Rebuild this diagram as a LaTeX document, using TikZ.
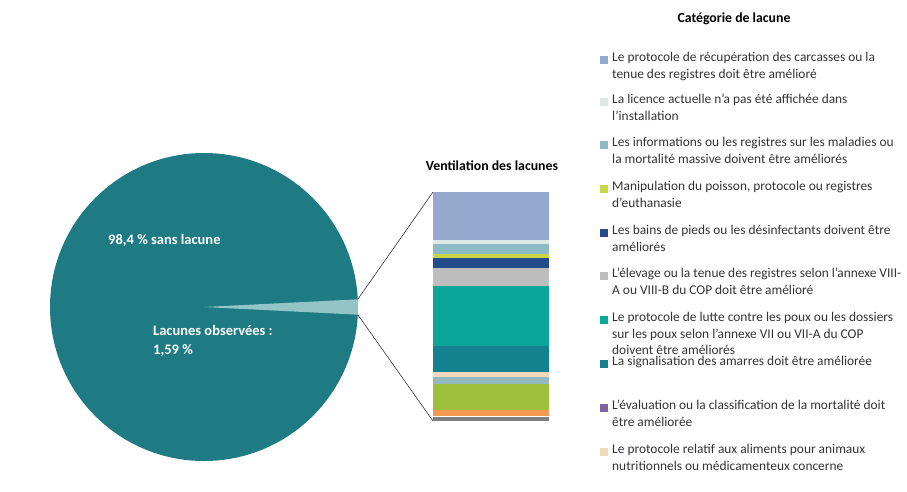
\documentclass[tikz,border=0pt]{standalone}
\usepackage{fontspec}
\setmainfont{Carlito}
\begin{document}
\begin{tikzpicture}[x=1pt,y=-1pt,
  lg/.style={anchor=north west,align=left,font=\fontsize{13.4}{16.5}\selectfont,text=black!80,inner sep=0pt},
  sq/.style={minimum size=7.5pt,inner sep=0pt},
  pt/.style={font=\bfseries\fontsize{14.5}{19}\selectfont,text=white,anchor=west,align=left,inner sep=0pt}]
\useasboundingbox (0,0) rectangle (907,491);
\definecolor{pie}{HTML}{1E7B84}\definecolor{sl}{HTML}{93C5C8}
\fill[pie] (204,307) circle (154);
\fill[sl,shift={(204,307)}] (0,0) -- (-2.86:154) arc[start angle=-2.86,end angle=2.86,radius=154] -- cycle;
\coordinate (s1) at (357.8,299.3); \coordinate (s2) at (357.8,314.7);
\node[pt] (p1) at (108,240) {98,4 \% sans lacune};
\node[pt] (p2) at (153,341) {Lacunes observées :\\1,59 \%};
\def\sg#1#2#3{\fill[fill=#3] (433,#1) rectangle (549,#2);}
\definecolor{c1}{HTML}{95A9CE}\definecolor{c2}{HTML}{DDE9E6}\definecolor{c3}{HTML}{8DBBC4}
\definecolor{c4}{HTML}{C8D645}\definecolor{c5}{HTML}{254C8A}\definecolor{c6}{HTML}{BDBDBD}
\definecolor{c7}{HTML}{0BA59A}\definecolor{c8}{HTML}{15838F}\definecolor{c9}{HTML}{F2D9BE}
\definecolor{c10}{HTML}{94B8BE}\definecolor{c11}{HTML}{9DBF3C}\definecolor{c12}{HTML}{F39A4E}
\definecolor{c13}{HTML}{7F7F7F}\definecolor{c14}{HTML}{7E65A0}
\sg{192}{240}{c1}\sg{240}{244}{c2}\sg{244}{254}{c3}\sg{254}{258}{c4}\sg{258}{268}{c5}
\sg{268}{286}{c6}\sg{286}{346}{c7}\sg{346}{372}{c8}\sg{372}{377}{c9}\sg{377}{384}{c10}
\sg{384}{410}{c11}\sg{410}{416}{c12}\sg{417}{421}{c13}
\coordinate (b1) at (433,192); \coordinate (b2) at (433,421);
\draw[black!80,line width=0.6pt] (s1) -- (b1) (s2) -- (b2);
\node[font=\bfseries\fontsize{13.8}{15}\selectfont] (t2) at (492,166) {Ventilation des lacunes};
\node[font=\bfseries\fontsize{13.8}{15}\selectfont] (t1) at (734,19) {Catégorie de lacune};
\foreach \y/\c/\t in {
 52/c1/{Le protocole de récupération des carcasses ou la\\tenue des registres doit être amélioré},
 94/c2/{La licence actuelle n'a pas été affichée dans\\l'installation},
 137/c3/{Les informations ou les registres sur les maladies ou\\la mortalité massive doivent être améliorés},
 181/c4/{Manipulation du poisson, protocole ou registres\\d'euthanasie},
 225/c5/{Les bains de pieds ou les désinfectants doivent être\\améliorés},
 268/c6/{L'élevage ou la tenue des registres selon l'annexe VIII-\\A ou VIII-B du COP doit être amélioré},
 312/c7/{Le protocole de lutte contre les poux ou les dossiers\\sur les poux selon l'annexe VII ou VII-A du COP\\doivent être améliorés},
 356/c8/{La signalisation des amarres doit être améliorée},
 400/c14/{L'évaluation ou la classification de la mortalité doit\\être améliorée},
 444/c9/{Le protocole relatif aux aliments pour animaux\\nutritionnels ou médicamenteux concerne}}
 {\node[sq,fill=\c] (q\y) at (604,\y+8) {};
  \node[lg] (l\y) at (612,\y) {\t};}
\end{tikzpicture}
\end{document}
